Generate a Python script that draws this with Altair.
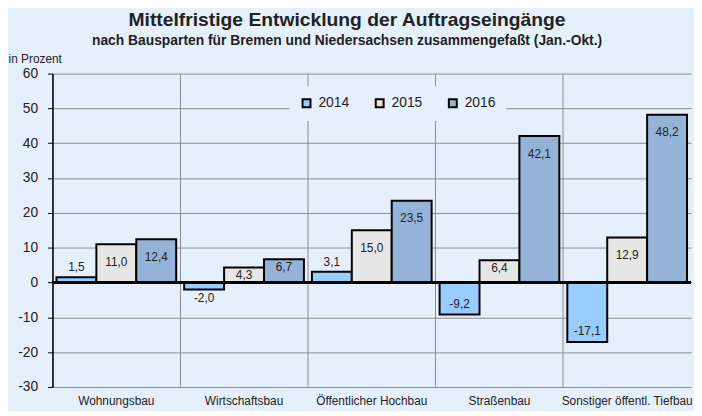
import altair as alt
import pandas as pd

categories = ["Wohnungsbau", "Wirtschaftsbau", "Öffentlicher Hochbau", "Straßenbau", "Sonstiger öffentl. Tiefbau"]
years = ["2014", "2015", "2016"]
v2014 = [1.5, -2.0, 3.1, -9.2, -17.1]
v2015 = [11.0, 4.3, 15.0, 6.4, 12.9]
v2016 = [12.4, 6.7, 23.5, 42.1, 48.2]
colors = ["#99CCFF", "#E6E6E6", "#95B3D7"]
y_ticks = [-30, -20, -10, 0, 10, 20, 30, 40, 50, 60]

rows = []
for yr, vals in zip(years, [v2014, v2015, v2016]):
    for c, v in zip(categories, vals):
        rows.append({"cat": c, "year": yr, "value": v, "label": f"{v:.1f}".replace(".", ",")})
df = pd.DataFrame(rows)

BG = "#E6F0FC"
FONT = "Liberation Sans"

x_enc = alt.X("cat:N", sort=categories,
              scale=alt.Scale(domain=categories, paddingInner=0, paddingOuter=0),
              axis=alt.Axis(title=None, grid=True, bandPosition=0, gridColor="#8C8C8C",
                            gridWidth=1, ticks=False, domain=False, labelAngle=0,
                            labelFontSize=12, labelPadding=9, labelColor="#222222",
                            labelFont=FONT))
xo_enc = alt.XOffset("year:N", sort=years,
                     scale=alt.Scale(domain=years, paddingInner=0, paddingOuter=0.1))
y_enc = alt.Y("value:Q",
              scale=alt.Scale(domain=[-30, 60], nice=False, zero=False),
              axis=alt.Axis(values=y_ticks, tickCount=len(y_ticks), grid=True,
                            gridColor="#8C8C8C", gridWidth=1,
                            domainColor="black", domainWidth=1.5, tickColor="black",
                            tickSize=5, labelFontSize=14, labelPadding=10,
                            labelOverlap=False,
                            labelColor="#222222", labelFont=FONT,
                            labelExpr="toString(datum.value)",
                            title="in Prozent", titleAngle=0, titleAlign="left",
                            titleBaseline="middle", titleX=-45, titleY=-15,
                            titleFontSize=12, titleFontWeight="normal",
                            titleFont=FONT, titleColor="#222222"))

base = alt.Chart(df)

bars = base.mark_bar(stroke="black", strokeWidth=2, strokeJoin="miter").encode(
    x=x_enc, xOffset=xo_enc, y=y_enc,
    color=alt.Color("year:N", sort=years,
                    scale=alt.Scale(domain=years, range=colors),
                    legend=alt.Legend(title=None, orient="none", direction="horizontal",
                                      legendX=240, legendY=13, fillColor=BG, padding=10,
                                      symbolType="square", symbolSize=64,
                                      symbolStrokeColor="black", symbolStrokeWidth=2,
                                      labelFontSize=14, labelOffset=5, columnPadding=22,
                                      labelColor="#222222", labelFont=FONT)),
)

zero = alt.Chart(df).mark_rule(color="black", strokeWidth=1.5).encode(y=alt.datum(0))


def txt(cond, baseline, dy):
    return base.transform_filter(cond).mark_text(
        baseline=baseline, dy=dy, fontSize=12, font=FONT, color="#222222"
    ).encode(x=x_enc, xOffset=xo_enc, y=y_enc, text="label:N")


labels = [
    txt("datum.value >= 0 && datum.value < 4", "bottom", -3),
    txt("datum.value >= 4 && datum.value < 10", "middle", 8),
    txt("datum.value >= 10", "middle", 18),
    txt("datum.value < 0 && datum.value > -4", "top", 4),
    txt("datum.value <= -4", "middle", -11),
]

chart = alt.layer(bars, zero, *labels).properties(
    width=646, height=317,
    autosize=alt.AutoSizeParams(type="none"),
    padding={"left": 45, "top": 64, "right": 3, "bottom": 22},
    background=BG,
    title=alt.TitleParams(
        text="Mittelfristige Entwicklung der Auftragseingänge",
        subtitle="nach Bausparten für Bremen und Niedersachsen zusammengefaßt (Jan.-Okt.)",
        anchor="middle", dx=-25, offset=4, fontSize=19.5, fontWeight="bold",
        font=FONT, color="#222222", subtitleFontSize=14, subtitleFontWeight="bold",
        subtitleFont=FONT, subtitleColor="#222222", subtitlePadding=4,
    ),
).configure_view(stroke=None, fill=BG)

chart.save("out.html", embed_options={"renderer": "svg", "actions": False})
